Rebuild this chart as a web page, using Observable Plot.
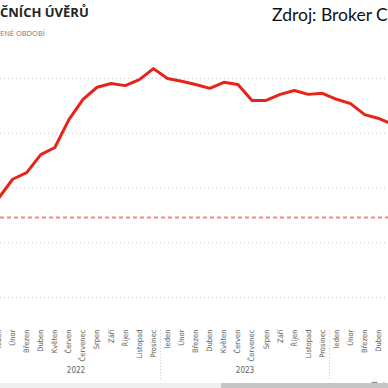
<!DOCTYPE html>
<html>
<head>
<meta charset="utf-8">
<script src="https://cdn.jsdelivr.net/npm/d3@7"></script>
<script src="https://cdn.jsdelivr.net/npm/@observablehq/plot@0.6"></script>
<style>
  html, body { margin: 0; padding: 0; background: #fff; }
  #wrap { position: relative; width: 388px; height: 388px; overflow: hidden; background: #fff; }
  #title { position: absolute; left: 0; top: 4px; font-family: "Open Sans", sans-serif; font-weight: 700; font-size: 13px; line-height: 16px; color: #252423; white-space: nowrap; }
  #subtitle { position: absolute; left: 0; top: 28px; font-family: "Open Sans", sans-serif; font-size: 7.5px; line-height: 10px; color: #777; white-space: nowrap; }
  #source { position: absolute; left: 272px; top: 4px; font-family: Lato, sans-serif; font-size: 17.5px; line-height: 22px; color: #111; white-space: nowrap; }
  #chart { position: absolute; left: 0; top: 0; }
  #track { position: absolute; left: 0; top: 383px; width: 388px; height: 5px; background: #efefef; }
  #thumb { position: absolute; left: 221px; top: 383px; width: 167px; height: 5px; background: #c6c6c6; }
</style>
</head>
<body>
<div id="wrap">
  <div id="chart"></div>
  <div id="title">ČNÍCH ÚVĚRŮ</div>
  <div id="subtitle">ENÉ OBDOBÍ</div>
  <div id="source">Zdroj: Broker Consulting</div>
  <div id="track"></div>
  <div id="thumb"></div>
</div>
<script>
// Month index 0 = leden 2022
const monthIndex = d3.range(0, 29);
const monthLabels = [
  "leden","Únor","Březen","Duben","Květen","Červen","Červenec","Srpen","Září","Říjen","Listopad","Prosinec",
  "leden","Únor","Březen","Duben","Květen","Červen","Červenec","Srpen","Září","Říjen","Listopad","Prosinec",
  "leden","Únor","Březen","Duben","Květen"
];
const rates = [
  3.81, 4.16, 4.28, 4.61, 4.74, 5.25, 5.62, 5.84, 5.91, 5.87, 5.98, 6.18,
  6.00, 5.95, 5.89, 5.82, 5.93, 5.89, 5.60, 5.60, 5.71, 5.78, 5.71, 5.73,
  5.62, 5.54, 5.34, 5.27, 5.16
];
const yearLabels = ["2022", "2023"];
const yearCenters = [5.5, 17.5];
const yearSeparators = [11.5, 23.5];
const gridValues = [2, 3, 4, 5, 6];
const referenceValue = 3.46;

const series = monthIndex.map((m, i) => ({m, v: rates[i]}));
const years = yearLabels.map((y, i) => ({y, m: yearCenters[i]}));

const chart = Plot.plot({
  width: 388,
  height: 388,
  marginLeft: 0,
  marginRight: 0,
  marginTop: 78,
  marginBottom: 91,
  style: {fontFamily: "'Liberation Sans Narrow', 'DejaVu Sans Condensed', Roboto, sans-serif", background: "transparent"},
  x: {domain: [0.142, 27.69], axis: null},
  y: {domain: [2, 6], axis: null},
  marks: [
    Plot.ruleY(gridValues, {stroke: "#c8c8c8", strokeWidth: 1, strokeDasharray: "1,3"}),
    Plot.ruleY([referenceValue], {stroke: "#f08a80", strokeWidth: 2, strokeDasharray: "4,3"}),
    Plot.line(series, {x: "m", y: "v", stroke: "#e8231a", strokeWidth: 3, strokeLinejoin: "round"}),
    Plot.axisX(monthIndex, {
      tickFormat: i => monthLabels[i],
      tickRotate: -90,
      tickSize: 0,
      tickPadding: 32,
      fontSize: 7.5,
      color: "#605e5c"
    }),
    Plot.ruleX(yearSeparators, {y1: 1.4, y2: 0.47, stroke: "#c8c8c8", strokeWidth: 1, strokeDasharray: "1,2"}),
    Plot.text(years, {x: "m", text: "y", frameAnchor: "bottom", dy: 75, fontSize: 8, fill: "#605e5c"})
  ]
});
document.getElementById("chart").appendChild(chart);
</script>
</body>
</html>
